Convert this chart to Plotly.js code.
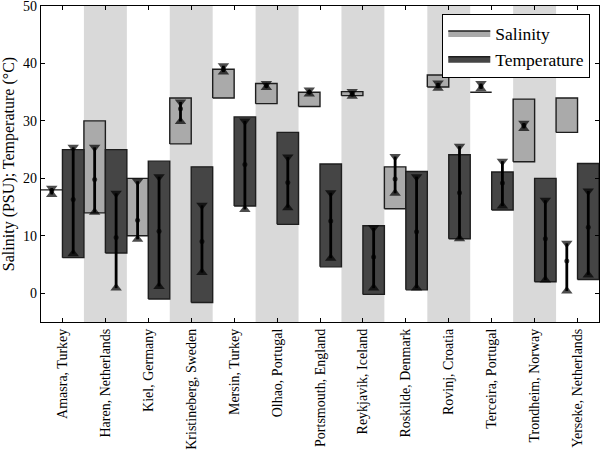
<!DOCTYPE html>
<html>
<head>
<meta charset="utf-8">
<script src="https://cdn.plot.ly/plotly-3.0.1.min.js"></script>
<style>html,body{margin:0;padding:0;background:#fff}#chart{width:600px;height:450px}</style>
</head>
<body>
<div id="chart"></div>
<script>
const locations = ["Amasra, Turkey","Haren, Netherlands","Kiel, Germany","Kristineberg, Sweden","Mersin, Turkey","Olhao, Portugal","Portsmouth, England","Reykjavik, Iceland","Roskilde, Denmark","Rovinj, Croatia","Terceira, Portugal","Trondheim, Norway","Yerseke, Netherlands"];

const salLow  = [18, 14, 10, 26, 34, 33, 32.5, 34.4, 14.7, 35.9, 35, 22.9, 28];
const salHigh = [18, 30, 20, 34, 39, 36.5, 35, 35.1, 22, 38, 35, 33.8, 34];
const tempLow  = [6.2, 7, -1, -1.6, 15.2, 12, 4.6, -0.2, 0.6, 9.5, 14.5, 2, 2.4];
const tempHigh = [25, 25, 23, 22, 30.7, 28, 22.5, 11.75, 21.2, 24.1, 21.1, 20, 22.6];

const salErrMin  = [17.2, 14.1, 9.4, 29.9, 38.5, 35.8, 34.7, 34.3, 17.4, 35.7, 35.6, 28.7, 0.4];
const salErrMean = [17.8, 19.8, 12.7, 32.1, 39.0, 36.1, 35.0, 34.7, 19.9, 36.2, 36.0, 29.2, 5.6];
const salErrMax  = [18.3, 25.4, 19.5, 33.3, 39.6, 36.5, 35.4, 35.1, 23.8, 36.6, 36.5, 29.6, 8.7];

const tempErrMin  = [6.9, 0.9, 1.2, 3.6, 14.6, 14.9, 6.1, 0.9, 0.9, 9.5, 15.2, 2.3, 3.2];
const tempErrMean = [16.3, 9.7, 10.8, 9.0, 22.4, 19.3, 12.6, 6.3, 10.7, 17.5, 19.2, 9.5, 11.5];
const tempErrMax  = [25.4, 17.4, 20.3, 15.3, 30.0, 23.7, 17.5, 11.4, 20.3, 25.6, 23.0, 16.2, 17.8];

const yTicks = [0, 10, 20, 30, 40, 50];

const FONT = "Liberation Serif";

function boxes(lo, hi, off0, off1){
  const xs=[], ys=[];
  lo.forEach((l,i)=>{
    const h=hi[i];
    xs.push(i+off0,i+off1,i+off1,i+off0,i+off0,null);
    ys.push(l,l,h,h,l,null);
  });
  return {x:xs,y:ys};
}
function errs(mn, me, mx, off){
  const xs=[], ys=[], sym=[], sz=[];
  mn.forEach((m,i)=>{
    xs.push(i+off,i+off,i+off,null);
    ys.push(mx[i],me[i],m,null);
    sym.push('triangle-down','circle','triangle-up','circle');
    sz.push(10,5,10,0);
  });
  return {x:xs,y:ys,sym:sym,sz:sz};
}

const sb = boxes(salLow, salHigh, -0.5, 0);
const tb = boxes(tempLow, tempHigh, 0, 0.5);
const se = errs(salErrMin, salErrMean, salErrMax, -0.25);
const te = errs(tempErrMin, tempErrMean, tempErrMax, 0.25);

const traces = [
  {x:sb.x,y:sb.y,type:'scatter',mode:'lines',fill:'toself',fillcolor:'#aaaaaa',
   line:{color:'#1e1e1e',width:1.4},name:'Salinity',hoverinfo:'skip'},
  {x:tb.x,y:tb.y,type:'scatter',mode:'lines',fill:'toself',fillcolor:'#454545',
   line:{color:'#1e1e1e',width:1.4},name:'Temperature',hoverinfo:'skip'},
  {x:se.x,y:se.y,type:'scatter',mode:'lines+markers',showlegend:false,
   line:{color:'#000',width:2.8},marker:{color:'#000',symbol:se.sym,size:se.sz,line:{width:0}}},
  {x:te.x,y:te.y,type:'scatter',mode:'lines+markers',showlegend:false,
   line:{color:'#000',width:2.8},marker:{color:'#000',symbol:te.sym,size:te.sz,line:{width:0}}}
];

const shapes = locations.map((_,i)=> i%2===1 ? {
  type:'rect', xref:'x', yref:'paper', x0:i-0.5, x1:i+0.5, y0:0, y1:1,
  fillcolor:'#d9d9d9', line:{width:0}, layer:'below'} : null).filter(Boolean);

const layout = {
  width:600, height:450,
  margin:{l:41,r:1,t:6,b:128},
  paper_bgcolor:'#fff', plot_bgcolor:'#fff',
  font:{family:FONT,size:13,color:'#000'},
  showlegend:true,
  legend:{x:0.984,y:0.975,xanchor:'right',yanchor:'top',bgcolor:'#fff',
    bordercolor:'#000',borderwidth:1.2,font:{family:FONT,size:17.5,color:'#000'},
    tracegroupgap:0,itemwidth:42},
  xaxis:{range:[-0.5,12.5],tickvals:locations.map((_,i)=>i),ticktext:locations,
    tickangle:-90,ticks:'inside',ticklen:4,tickcolor:'#000',showgrid:false,zeroline:false,
    showline:true,linecolor:'#000',linewidth:1.2,mirror:'allticks',
    tickfont:{family:FONT,size:14}},
  yaxis:{range:[-5,50],tickvals:yTicks,ticks:'inside',ticklen:4,tickcolor:'#000',
    showgrid:false,zeroline:false,showline:true,linecolor:'#000',linewidth:1.2,mirror:'allticks',
    tickfont:{family:FONT,size:14},ticklabeloverflow:'allow',
    title:{text:'Salinity (PSU); Temperature (°C)',font:{family:FONT,size:16},standoff:5}},
  shapes:shapes
};

Plotly.newPlot('chart',traces,layout,{displayModeBar:false});
</script>
</body>
</html>
